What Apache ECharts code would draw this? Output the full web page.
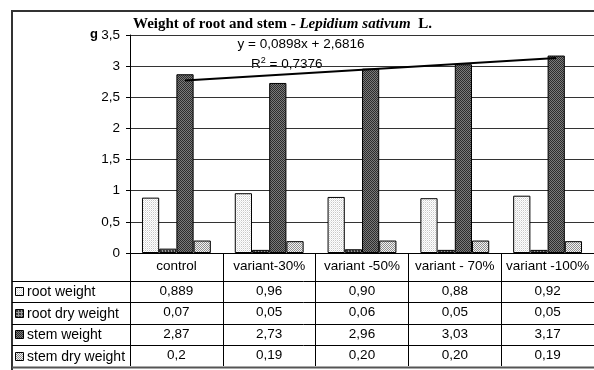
<!DOCTYPE html>
<html>
<head>
<meta charset="utf-8">
<script src="https://cdn.jsdelivr.net/npm/echarts@6/dist/echarts.min.js"></script>
<style>
html, body { margin: 0; padding: 0; background: #fff; }
#chart { width: 594px; height: 370px; }
</style>
</head>
<body>
<div id="chart"></div>
<script>
// data, as printed in the table under the chart
var categories = ['control', 'variant-30%', 'variant -50%', 'variant - 70%', 'variant -100%'];
var seriesNames = ['root weight', 'root dry weight', 'stem weight', 'stem dry weight'];
var rootWeight = ['0,889', '0,96', '0,90', '0,88', '0,92'];
var rootDryWeight = ['0,07', '0,05', '0,06', '0,05', '0,05'];
var stemWeight = ['2,87', '2,73', '2,96', '3,03', '3,17'];
var stemDryWeight = ['0,2', '0,19', '0,20', '0,20', '0,19'];
// linear trend of stem weight (ends)
var trendStart = 2.77;
var trendEnd = 3.13;
var equation = 'y = 0,0898x + 2,6816';
var rSquared = '0,7376';
var unit = 'g';

var rows = [rootWeight, rootDryWeight, stemWeight, stemDryWeight];
function num(s) { return parseFloat(s.replace(',', '.')); }

// little pixel patterns like the excel fills
function makePattern(grid) {
    var c = document.createElement('canvas');
    c.width = grid[0].length;
    c.height = grid.length;
    var ctx = c.getContext('2d');
    for (var y = 0; y < grid.length; y++) {
        for (var x = 0; x < grid[y].length; x++) {
            ctx.fillStyle = grid[y][x];
            ctx.fillRect(x, y, 1, 1);
        }
    }
    return { image: c, repeat: 'repeat' };
}
var W = '#ffffff';
var fills = [
    makePattern([[W, '#c8c8c8'], ['#e6e6e6', W]]),
    makePattern([['#999', '#999', '#999'], ['#999', '#333', '#444'], ['#999', '#444', '#333']]),
    makePattern([['#2c2c2c', '#7a7a7a'], ['#7a7a7a', '#2c2c2c']]),
    makePattern([['#8c8c8c', '#f2f2f2'], ['#f2f2f2', '#8c8c8c']])
];

var font = '"Liberation Sans", Arial, sans-serif';
var fs = 13.5;
var gridLeft = 130, gridTop = 35, gridW = 466, gridH = 218;
var headH = 27.5, rowH = 21.5;
var axisY = gridTop + gridH;

var graphic = [];
// outer frame
graphic.push({
    type: 'rect', shape: { x: 12, y: 11, width: 600, height: 380 },
    style: { fill: null, stroke: '#333', lineWidth: 2 }
});
graphic.push({
    type: 'text', x: 90, y: 34,
    style: { text: unit, font: 'bold 13px ' + font, fill: '#000', verticalAlign: 'middle' }
});
graphic.push({
    type: 'text', x: 301, y: 44,
    style: { text: equation, font: fs + 'px ' + font, fill: '#000', align: 'center', verticalAlign: 'middle' }
});
graphic.push({
    type: 'text', x: 251, y: 64,
    style: {
        text: '{n|R}{s|2}{n| = ' + rSquared + '}',
        verticalAlign: 'middle',
        rich: {
            n: { fontSize: fs, fontFamily: font, fill: '#000', lineHeight: 16 },
            s: { fontSize: 9, fontFamily: font, fill: '#000', lineHeight: 16, padding: [0, 0, 7, 0] }
        }
    }
});
// table rows
var lineYs = [];
for (var i = 0; i <= rows.length; i++) lineYs.push(Math.round(axisY + headH + i * rowH) + 0.5);
lineYs.forEach(function (y, i) {
    graphic.push({
        type: 'line', shape: { x1: 12, y1: y, x2: 600, y2: y },
        style: { stroke: i === rows.length ? '#555' : '#000', lineWidth: i === rows.length ? 2 : 1 }
    });
});
seriesNames.forEach(function (name, i) {
    var cy = axisY + headH + i * rowH + rowH / 2;
    graphic.push({
        type: 'rect', shape: { x: 15.5, y: Math.round(cy - 4) + 0.5, width: 8, height: 8 },
        style: { fill: fills[i], stroke: '#000', lineWidth: 1 }
    });
    graphic.push({
        type: 'text', x: 27, y: cy + 1,
        style: { text: name, font: '14px ' + font, fill: '#000', verticalAlign: 'middle' }
    });
});

var series = seriesNames.map(function (name, i) {
    return {
        name: name,
        type: 'bar',
        data: rows[i].map(num),
        barGap: '0%',
        barCategoryGap: '25.8%',
        itemStyle: { color: fills[i], borderColor: '#000', borderWidth: 1 }
    };
});
series[2].markLine = {
    symbol: 'none',
    silent: true,
    label: { show: false },
    lineStyle: { color: '#000', width: 2, type: 'solid' },
    data: [[{ coord: [0, trendStart] }, { coord: [categories.length - 1, trendEnd] }]]
};

var option = {
    animation: false,
    backgroundColor: '#fff',
    title: {
        text: '{b|Weight of root and stem - }{i|Lepidium sativum}{b|  L.}',
        left: 133, top: 17, padding: 0,
        textStyle: {
            rich: {
                b: { fontFamily: '"Liberation Serif", serif', fontWeight: 'bold', fontSize: 15, color: '#000' },
                i: { fontFamily: '"Liberation Serif", serif', fontWeight: 'bold', fontStyle: 'italic', fontSize: 15, color: '#000' }
            }
        }
    },
    grid: { left: gridLeft, top: gridTop, width: gridW, height: gridH },
    xAxis: {
        type: 'category',
        data: categories,
        axisLine: { lineStyle: { color: '#000', width: 1 } },
        axisTick: { show: true, length: 113, lineStyle: { color: '#000' } },
        axisLabel: {
            interval: 0,
            margin: 0,
            hideOverlap: false,
            formatter: function (v, idx) {
                var s = '{h|' + v + '}';
                rows.forEach(function (r) { s += '\n{v|' + r[idx] + '}'; });
                return s;
            },
            rich: {
                h: { fontSize: fs, fontFamily: font, color: '#000', lineHeight: headH },
                v: { fontSize: fs, fontFamily: font, color: '#000', lineHeight: rowH }
            }
        }
    },
    yAxis: {
        type: 'value',
        min: 0,
        max: 3.5,
        interval: 0.5,
        axisLine: { show: true, lineStyle: { color: '#000' } },
        axisTick: { show: true, length: 4, lineStyle: { color: '#000' } },
        axisLabel: {
            margin: 10,
            fontSize: fs,
            fontFamily: font,
            color: '#000',
            formatter: function (v) { return String(v).replace('.', ','); }
        },
        splitLine: { lineStyle: { color: '#333', width: 1 } }
    },
    graphic: graphic,
    series: series
};

var chart = echarts.init(document.getElementById('chart'));
chart.setOption(option);
</script>
</body>
</html>
